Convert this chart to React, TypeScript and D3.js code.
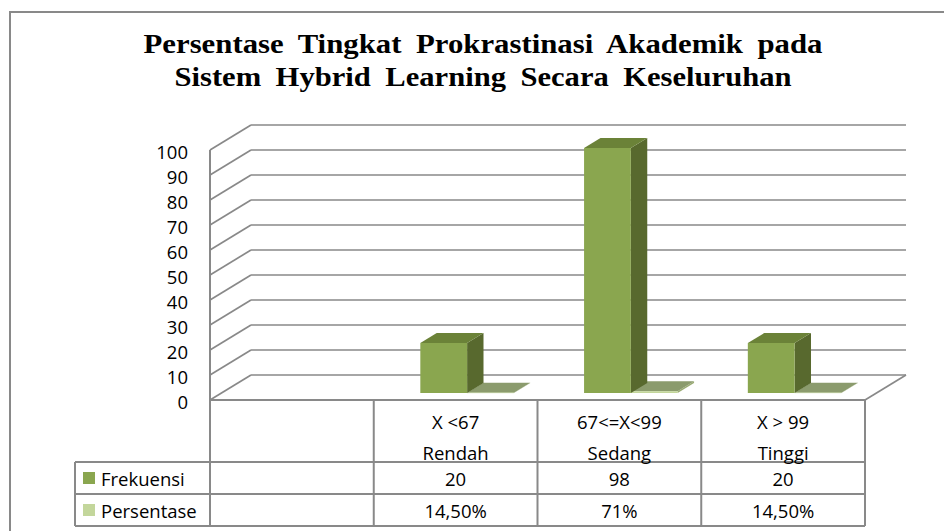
import { scaleBand, scaleLinear } from 'd3';

const titleLines = [
  'Persentase Tingkat Prokrastinasi Akademik pada',
  'Sistem Hybrid Learning Secara Keseluruhan',
];
const ranges = ['X <67', '67<=X<99', 'X > 99'];
const levels = ['Rendah', 'Sedang', 'Tinggi'];
const seriesNames = ['Frekuensi', 'Persentase'];
const frekuensi = [20, 98, 20];
const persentase = [0.145, 0.71, 0.145];
const persenLabels = ['14,50%', '71%', '14,50%'];
const yTicks = [0, 10, 20, 30, 40, 50, 60, 70, 80, 90, 100];

const W = 944;
const H = 531;
const left = 210;
const right = 865;
const floorY = 400;
const DX = 41;
const DY = -25;
const depth0 = 0.28;
const depth1 = 0.68;
const tableLeft = 75;
const rowY = [400, 462, 494, 526];
const grid = '#898989';
const font = "'Open Sans', sans-serif";
const fs = 18.5;

const colors = [
  { front: '#8aa64f', side: '#58692e', top: '#6b8238' },
  { front: '#c3d69b', side: '#9aab73', top: '#8b9b6d' },
];

function Bar({ x, w, v, y, c }) {
  const y0 = y(0);
  const yv = y(v);
  const ax = depth0 * DX, ay = depth0 * DY;
  const bx = depth1 * DX, by = depth1 * DY;
  const pts = (arr) => arr.map(p => p.join(',')).join(' ');
  return (
    <g>
      <polygon fill={c.side} points={pts([[x + w + ax, yv + ay], [x + w + bx, yv + by], [x + w + bx, y0 + by], [x + w + ax, y0 + ay]])} />
      <polygon fill={c.top} points={pts([[x + ax, yv + ay], [x + w + ax, yv + ay], [x + w + bx, yv + by], [x + bx, yv + by]])} />
      <rect x={x + ax} y={yv + ay} width={w} height={Math.max(0.5, y0 - yv)} fill={c.front} />
    </g>
  );
}

export default function App() {
  const x = scaleBand().domain(['', ...ranges]).range([left, right]);
  const y = scaleLinear().domain([0, 100]).range([floorY, 150]);
  const band = x.bandwidth();
  const barW = band / 3.5;
  const inner = scaleBand().domain(seriesNames).range([0.75 * barW, band - 0.75 * barW]);
  const values = [frekuensi, persentase];
  const colX = [left, ...ranges.map(r => x(r)), right];

  return (
    <svg width={W} height={H} style={{ position: 'absolute', left: 0, top: 0, background: '#fff' }}>
      <rect x={10} y={12} width={1000} height={600} fill="#fff" stroke={grid} strokeWidth={2} />

      {titleLines.map((t, i) => (
        <text key={t} x={483} y={53 + i * 33} textAnchor="middle" textLength={i === 0 ? 679 : 617}
          lengthAdjust="spacingAndGlyphs" wordSpacing={6} fontFamily="'Liberation Serif', 'Times New Roman', serif"
          fontWeight="bold" fontSize={27} fill="#000">{t}</text>
      ))}

      {/* side wall + back wall gridlines */}
      {yTicks.map(t => (
        <g key={t} stroke={grid} strokeWidth={1.7} fill="none">
          <line x1={left} y1={y(t)} x2={left + DX} y2={y(t) + DY} />
          <line x1={left + DX} y1={y(t) + DY} x2={right + DX} y2={y(t) + DY} />
        </g>
      ))}
      <line x1={right + DX} y1={y(0) + DY} x2={right} y2={y(0)} stroke={grid} strokeWidth={1.7} />
      <line x1={left} y1={y(100)} x2={left} y2={rowY[3]} stroke={grid} strokeWidth={2} />

      {yTicks.map(t => (
        <text key={t} x={188} y={y(t) + 1} textAnchor="end" dominantBaseline="central"
          fontFamily={font} fontSize={fs} fill="#000">{t}</text>
      ))}

      {/* bars */}
      {ranges.map((r, i) => (
        <g key={r}>
          {[1, 0].map(s => (
            <Bar key={s} x={x(r) + inner(seriesNames[s])} w={inner.bandwidth()} v={values[s][i]} y={y} c={colors[s]} />
          ))}
        </g>
      ))}

      {/* data table */}
      <g stroke={grid} strokeWidth={2} fill="none">
        <line x1={left} y1={rowY[0]} x2={right} y2={rowY[0]} />
        {rowY.slice(1).map(ry => <line key={ry} x1={tableLeft} y1={ry} x2={right} y2={ry} />)}
        <line x1={tableLeft} y1={rowY[1]} x2={tableLeft} y2={rowY[3]} />
        {colX.slice(1).map(cx => <line key={cx} x1={cx} y1={rowY[0]} x2={cx} y2={rowY[3]} />)}
      </g>
      {ranges.map((r, i) => {
        const cx = x(r) + band / 2;
        return (
          <g key={r} fontFamily={font} fontSize={fs} fill="#000" textAnchor="middle">
            <text x={cx} y={421} dominantBaseline="central">{r}</text>
            <text x={cx} y={452} dominantBaseline="central">{levels[i]}</text>
            <text x={cx} y={478} dominantBaseline="central">{frekuensi[i]}</text>
            <text x={cx} y={510} dominantBaseline="central">{persenLabels[i]}</text>
          </g>
        );
      })}
      {seriesNames.map((s, i) => {
        const cy = (rowY[i + 1] + rowY[i + 2]) / 2;
        return (
          <g key={s}>
            <rect x={83} y={cy - 6} width={12} height={12} fill={colors[i].front} />
            <text x={101} y={cy} dominantBaseline="central" fontFamily={font} fontSize={fs} fill="#000">{s}</text>
          </g>
        );
      })}
    </svg>
  );
}
